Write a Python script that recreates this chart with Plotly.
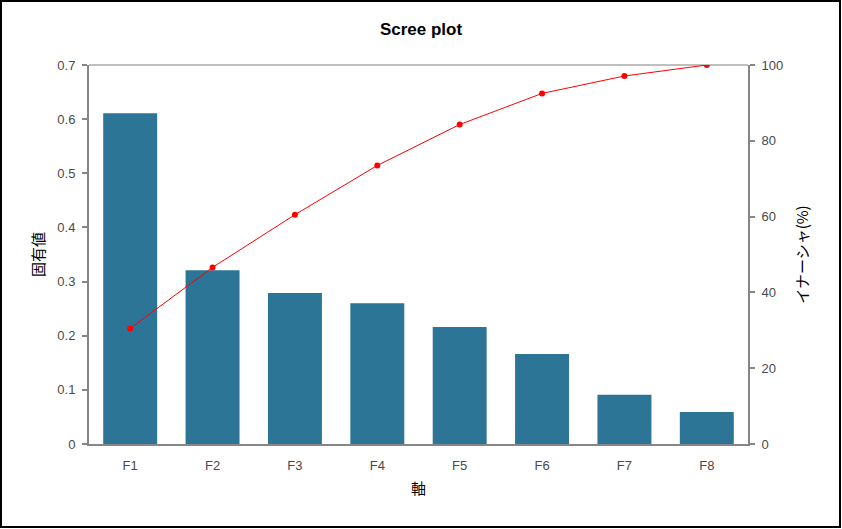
import plotly.graph_objects as go

# Dados
eixos = ["F1", "F2", "F3", "F4", "F5", "F6", "F7", "F8"]
autovalores = [0.611, 0.321, 0.279, 0.260, 0.216, 0.166, 0.091, 0.059]
inercia_acum = [30.5, 46.6, 60.5, 73.5, 84.3, 92.5, 97.1, 100.0]

fonte = "Liberation Sans"
fonte_jp = "Noto Sans CJK JP"
cinza = "#868686"

fig = go.Figure()
fig.add_trace(go.Bar(x=eixos, y=autovalores, marker_color="#2C7597",
                     marker_line_width=0, yaxis="y"))
fig.add_trace(go.Scatter(x=eixos, y=inercia_acum, mode="lines+markers",
                         line=dict(color="#FF0000", width=1),
                         marker=dict(color="#FF0000", size=6), yaxis="y2"))

W, H = 842, 529
L, R, T, B = 89, 94, 65, 85
pw, ph = W - L - R, H - T - B

def px2x(p):
    return (p - L) / pw

def px2y(p):
    return (H - B - p) / ph

fig.update_layout(
    width=W, height=H,
    margin=dict(l=L, r=R, t=T, b=B, autoexpand=False),
    paper_bgcolor="white", plot_bgcolor="white",
    showlegend=False, bargap=0.345,
    font=dict(family=fonte, size=13, color="#4a4a4a"),
    title=dict(text="<b>Scree plot</b>", x=0.5, xanchor="center", y=1 - 29 / H,
               yanchor="middle", font=dict(family=fonte, size=17, color="black")),
    xaxis=dict(showline=True, linecolor=cinza, linewidth=2, ticks="outside",
               ticklen=8, tickcolor="rgba(0,0,0,0)", automargin=False,
               title=dict(text="軸", font=dict(family=fonte_jp, size=15, color="black"),
                          standoff=12)),
    yaxis=dict(range=[0, 0.7], dtick=0.1, showgrid=False, showline=True,
               linecolor=cinza, linewidth=2, ticks="outside", tickcolor=cinza,
               ticklen=5, tickwidth=2, zeroline=False, automargin=False,
               ticklabelstandoff=4,
               title=dict(text="固有値", font=dict(family=fonte_jp, size=15, color="black"),
                          standoff=9)),
    yaxis2=dict(range=[0, 100], dtick=20, overlaying="y", side="right",
                showgrid=False, showline=True, linecolor=cinza, linewidth=2,
                ticks="outside", tickcolor=cinza, ticklen=5, tickwidth=2,
                zeroline=False, automargin=False, ticklabelstandoff=4,
                title=dict(text="イナーシャ(%)", font=dict(family=fonte_jp, size=15, color="black"),
                           standoff=15)),
)

# linha superior da área do gráfico
fig.add_shape(type="line", xref="paper", yref="paper", x0=0, x1=1, y0=1, y1=1,
              line=dict(color="#BFBFBF", width=2), layer="below")
# moldura externa
fig.add_shape(type="rect", xref="paper", yref="paper",
              x0=px2x(1), x1=px2x(840), y0=px2y(527), y1=px2y(1),
              line=dict(color="black", width=2))

fig.write_html("out.html", config={"displayModeBar": False},
               post_script="document.body.style.margin='0';")
